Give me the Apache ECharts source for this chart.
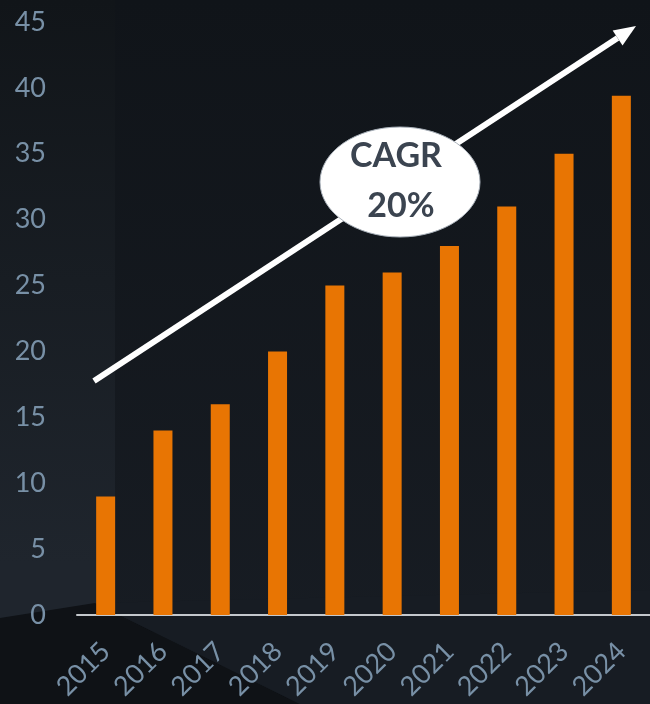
<!DOCTYPE html>
<html>
<head>
<meta charset="utf-8">
<script src="https://cdn.jsdelivr.net/npm/echarts@6/dist/echarts.min.js"></script>
<style>
  html, body { margin: 0; padding: 0; background: #13171d; }
  #main { width: 650px; height: 704px; }
</style>
</head>
<body>
<div id="main"></div>
<script>
var years = ['2015', '2016', '2017', '2018', '2019', '2020', '2021', '2022', '2023', '2024'];
var values = [9, 14, 16, 20, 25, 26, 28, 31, 35, 39.4];
var cagrText = ['CAGR', '20%'];

var myChart = echarts.init(document.getElementById('main'));

// arrow end points, in pixels
var ax0 = 94, ay0 = 381, ax1 = 636, ay1 = 26;
var ang = Math.atan2(ay1 - ay0, ax1 - ax0);
var headLen = 22, headW = 9;
var bx = ax1 - headLen * Math.cos(ang), by = ay1 - headLen * Math.sin(ang);
var px = -Math.sin(ang), py = Math.cos(ang);

var option = {
    backgroundColor: {
        type: 'linear', x: 0, y: 0, x2: 0, y2: 1,
        colorStops: [{offset: 0, color: '#101419'}, {offset: 1, color: '#181d24'}]
    },
    graphic: [
        {   // lighter left panel
            type: 'rect', z: -10, silent: true,
            shape: {x: 0, y: 0, width: 115, height: 704},
            style: {
                fill: {
                    type: 'linear', x: 0, y: 0, x2: 0, y2: 1,
                    colorStops: [{offset: 0, color: '#111519'}, {offset: 0.8, color: '#1f252d'}, {offset: 1, color: '#1f252d'}]
                }
            }
        },
        {   // dark floor wedge
            type: 'polygon', z: -9, silent: true,
            shape: {points: [[0, 618], [95, 603], [300, 704], [0, 704]]},
            style: {fill: '#0f1216'}
        },
        {
            type: 'polygon', z: -9, silent: true,
            shape: {points: [[95, 603], [650, 590], [650, 704], [300, 704]]},
            style: {fill: '#171c23'}
        },
        {
            type: 'line', z: 50, silent: true,
            shape: {x1: ax0, y1: ay0, x2: bx, y2: by},
            style: {stroke: '#ffffff', lineWidth: 6}
        },
        {
            type: 'polygon', z: 50, silent: true,
            shape: {points: [[ax1, ay1], [bx + px * headW, by + py * headW], [bx - px * headW, by - py * headW]]},
            style: {fill: '#ffffff'}
        },
        {
            type: 'ellipse', z: 60, silent: true,
            shape: {cx: 400, cy: 182, rx: 80, ry: 55},
            style: {fill: '#ffffff', stroke: '#aab2bb', lineWidth: 1}
        },
        {
            type: 'text', z: 61, silent: true,
            style: {
                text: cagrText[0], x: 396, y: 156, align: 'center', verticalAlign: 'middle',
                fill: '#3b4450', font: 'bold 34px Lato'
            }
        },
        {
            type: 'text', z: 61, silent: true,
            style: {
                text: cagrText[1], x: 401, y: 206, align: 'center', verticalAlign: 'middle',
                fill: '#3b4450', font: 'bold 34px Lato'
            }
        }
    ],
    grid: {left: 77, right: -9, top: 22, bottom: 89},
    xAxis: {
        type: 'category',
        data: years,
        axisLine: {show: true, lineStyle: {color: '#c4c8cc', width: 2}},
        axisTick: {show: false},
        axisLabel: {
            rotate: 45, margin: 32,
            color: '#7890a6', fontSize: 27, fontFamily: 'Lato'
        }
    },
    yAxis: {
        type: 'value',
        min: 0, max: 45, interval: 5,
        axisLine: {show: false},
        axisTick: {show: false},
        splitLine: {show: false},
        axisLabel: {
            margin: 31,
            color: '#7890a6', fontSize: 27, fontFamily: 'Lato'
        }
    },
    series: [{
        type: 'bar',
        data: values,
        barWidth: 19,
        itemStyle: {color: '#e87503'}
    }]
};
myChart.setOption(option);
</script>
</body>
</html>
